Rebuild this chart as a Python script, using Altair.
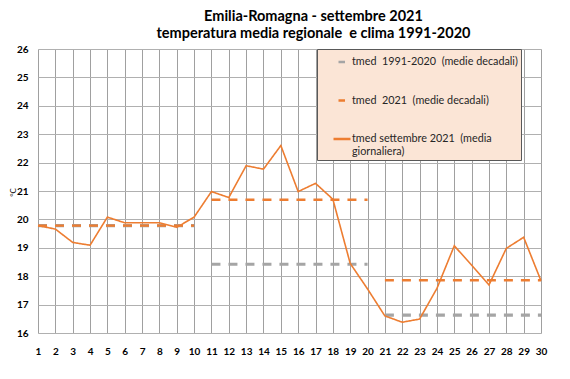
import altair as alt
import pandas as pd

# ---------------- data ----------------
days = list(range(1, 31))
tmed_daily = [19.78, 19.66, 19.19, 19.09, 20.08, 19.88, 19.88, 19.88, 19.72, 20.08,
              20.98, 20.77, 21.89, 21.77, 22.60, 20.98, 21.27, 20.71, 18.45, 17.55,
              16.60, 16.38, 16.49, 17.57, 19.07, 18.39, 17.69, 18.98, 19.37, 17.84]

decade_start = [1, 11, 21]
decade_end = [10, 20, 30]
clima_decadal = [19.78, 18.42, 16.63]
tmed2021_decadal = [19.78, 20.69, 17.86]

y_ticks = list(range(16, 27))

NB = "\u00a0"
S_CLIMA = "tmed" + NB + " 1991-2020" + NB + " (medie decadali)"
S_2021 = "tmed" + NB + " 2021" + NB + " (medie decadali)"
S_DAILY = "tmed settembre 2021" + NB + " (media giornaliera)"
S_DAILY_LINES = ["tmed settembre 2021" + NB + " (media", "giornaliera)"]
series_names = [S_CLIMA, S_2021, S_DAILY]
series_colors = ["#A5A5A5", "#ED7D31", "#ED7D31"]

title_lines = ["Emilia-Romagna - settembre 2021",
               "temperatura media regionale" + NB + " e clima 1991-2020"]

# ---------------- tables ----------------
daily_df = pd.DataFrame({"day": days, "value": tmed_daily, "series": S_DAILY})
dec_df = pd.concat([
    pd.DataFrame({"start": decade_start, "end": decade_end,
                  "value": clima_decadal, "series": S_CLIMA}),
    pd.DataFrame({"start": decade_start, "end": decade_end,
                  "value": tmed2021_decadal, "series": S_2021}),
], ignore_index=True)

FONT = "Lato"
PAD = NB * 5

legend = alt.Legend(
    title=None,
    orient="none",
    legendX=279,
    legendY=0,
    fillColor="#FBE5D6",
    strokeColor="#595959",
    padding=3,
    symbolOffset=12,
    symbolType="stroke",
    symbolSize=289,
    symbolStrokeWidth=2.5,
    labelFont=FONT,
    labelFontSize=10.8,
    labelColor="#262626",
    labelOffset=0,
    labelLimit=400,
    rowPadding=23.5,
    labelExpr=("datum.label == '" + S_DAILY + "' ? "
               "['" + S_DAILY_LINES[0] + "', '" + S_DAILY_LINES[1] + "'] : "
               "datum.label + '" + PAD + "'"),
)

color = alt.Color("series:N",
                  scale=alt.Scale(domain=series_names, range=series_colors),
                  legend=legend)

x_scale = alt.Scale(domain=[1, 30], nice=False, zero=False)
y_scale = alt.Scale(domain=[16, 26], nice=False, zero=False)

x_axis = alt.Axis(values=days, grid=True, ticks=False, domain=False, format="d",
                  labelFont=FONT, labelFontWeight="bold", labelFontSize=10,
                  labelColor="#000000", labelPadding=13, gridColor="#A0A0A0",
                  gridWidth=1, labelFlush=False)
y_axis = alt.Axis(values=y_ticks, grid=True, ticks=False, domain=False, format="d",
                  labelFont=FONT, labelFontWeight="bold", labelFontSize=10,
                  labelColor="#000000", labelPadding=10, gridColor="#B0B0B0",
                  gridWidth=1, title="°C", titleFont=FONT, titleFontSize=8,
                  titleFontWeight="normal", titleColor="#000000",
                  titleX=-29, titleY=143, titleAngle=-90, titleBaseline="top")

base_rule = alt.Chart(dec_df).encode(
    x=alt.X("start:Q", scale=x_scale, axis=x_axis, title=None),
    x2="end:Q",
    y=alt.Y("value:Q", scale=y_scale, axis=y_axis),
    color=color,
)

gray_rules = base_rule.transform_filter(
    alt.datum.series == S_CLIMA
).mark_rule(strokeWidth=3.2, strokeDash=[9, 8])

orange_rules = base_rule.transform_filter(
    alt.datum.series == S_2021
).mark_rule(strokeWidth=2.4, strokeDash=[9, 8])

daily_line = alt.Chart(daily_df).mark_line(strokeWidth=1.6).encode(
    x=alt.X("day:Q", scale=x_scale, axis=x_axis, title=None),
    y=alt.Y("value:Q", scale=y_scale, axis=y_axis),
    color=color,
    strokeDash=alt.StrokeDash(
        "series:N",
        scale=alt.Scale(domain=series_names,
                        range=[[0, 5, 6.5, 60], [0, 5, 6.5, 60], [1, 0]]),
        legend=legend),
)

chart = alt.layer(gray_rules, orange_rules, daily_line).properties(
    width=503,
    height=284,
    autosize="none",
    padding={"left": 30, "top": 41, "right": 21, "bottom": 38},
    background="white",
    title=alt.TitleParams(
        text=title_lines,
        font=FONT,
        fontSize=14.5,
        fontWeight="bold",
        color="#000000",
        anchor="middle",
        frame="group",
        dx=24,
        offset=3,
        lineHeight=17,
    ),
).configure_view(stroke=None).configure(
    style={"guide-label": {"lineHeight": 13}}
)

chart.save("out.html", embed_options={"renderer": "svg", "actions": False})
